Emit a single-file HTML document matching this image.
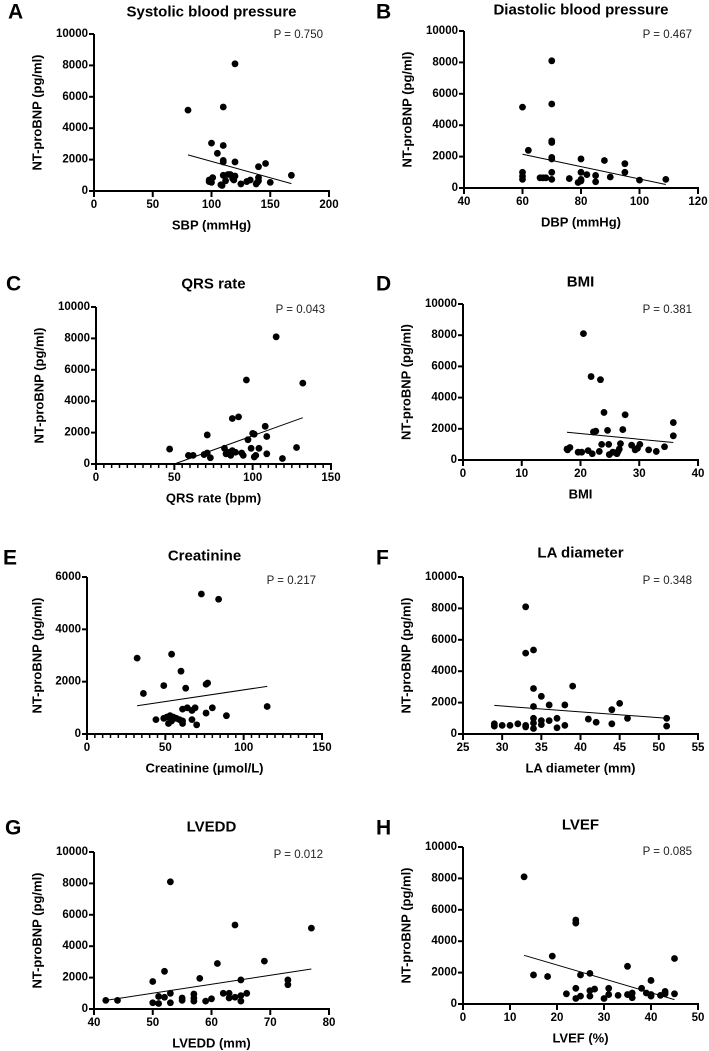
<!DOCTYPE html>
<html><head><meta charset="utf-8"><style>
html,body{margin:0;padding:0;background:#fff}
svg{display:block;font-family:"Liberation Sans",Arial,sans-serif}
</style></head><body>
<svg id="fig" width="709" height="1051" viewBox="0 0 709 1051"></svg>
<script>
// ---- data arrays ----
const titles = ["Systolic blood pressure","Diastolic blood pressure","QRS rate","BMI","Creatinine","LA diameter","LVEDD","LVEF"];
const xTitles = ["SBP (mmHg)","DBP (mmHg)","QRS rate (bpm)","BMI","Creatinine (µmol/L)","LA diameter (mm)","LVEDD (mm)","LVEF (%)"];
const pValues = ["P = 0.750","P = 0.467","P = 0.043","P = 0.381","P = 0.217","P = 0.348","P = 0.012","P = 0.085"];
const letters = ["A","B","C","D","E","F","G","H"];
const xTicksA = [0,50,100,150,200];
const xTicksB = [40,60,80,100,120];
const xTicksC = [0,50,100,150];
const xTicksD = [0,10,20,30,40];
const xTicksE = [0,50,100,150];
const xTicksF = [25,30,35,40,45,50,55];
const xTicksG = [40,50,60,70,80];
const xTicksH = [0,10,20,30,40,50];
const yTicks10k = [0,2000,4000,6000,8000,10000];
const yTicks6k = [0,2000,4000,6000];

const xsA = [80,110,120,100,110,105,110,110,120,140,146,168,98,100,101,108,110,112,114,116,118,120,125,130,133,138,139,140,140,150,98,109,119];
const ysA = [5150,5350,8100,3050,2900,2400,1950,1850,1850,1550,1750,1000,700,550,850,400,1000,650,1050,1050,800,950,450,600,700,450,550,850,650,550,600,350,700];
const fitA = [[80,2300],[168,470]];

const xsB = [60,70,70,62,70,70,70,70,80,88,95,60,60,60,66,67,68,70,70,76,79,80,80,80,82,85,85,90,95,100,109];
const ysB = [5150,5350,8100,2400,3000,2900,1950,1850,1850,1750,1550,1000,750,550,650,650,650,1000,550,600,350,1000,550,450,850,800,400,700,1000,500,550];
const fitB = [[60,2150],[109,220]];

const xsC = [115,96,132,87,91,71,108,100,101,97,109,47,59,62,69,71,73,82,83,85,86,87,89,93,94,99,101,102,104,109,119,128];
const ysC = [8100,5350,5150,2900,3000,1850,2400,1950,1900,1550,1750,950,550,550,600,700,400,1000,650,750,550,850,750,700,550,1000,450,550,1000,650,350,1050];
const fitC = [[50,0],[132,2950]];

const xsD = [20.5,21.8,23.4,24,27.6,22.2,22.6,24.6,27.2,35.8,35.8,17.7,17.8,18.2,19.6,20.2,21.3,22,23.2,23.6,24.8,24.9,25.5,26.2,26.4,26.6,26.8,28.7,29.3,29.7,30.1,31.6,32.9,34.3];
const ysD = [8100,5350,5150,3050,2900,1800,1850,1900,1950,2400,1550,700,650,800,500,500,600,400,550,1000,1000,350,500,400,550,700,1050,950,650,750,1000,650,550,850];
const fitD = [[17.7,1780],[35.8,1120]];

const xsE = [73,84,32,54,60,36,49,63,76,77,115,44,49,51,52,53,54,55,57,59,61,61,61,64,67,67,69,70,76,80,89];
const ysE = [5350,5150,2900,3050,2400,1550,1850,1750,1900,1950,1050,550,600,650,400,700,500,650,600,550,500,950,400,1000,900,550,1000,350,800,1000,700];
const fitE = [[32,1080],[115,1820]];

const xsF = [33,33,34,34,35,39,34,36,38,44,45,46,51,51,29,29,30,31,32,33,33,34,34,34,35,35,36,37,37,38,41,42,44];
const ysF = [8100,5150,5350,2900,2400,3050,1750,1850,1850,1550,1950,1000,1000,500,650,500,550,550,650,450,550,1000,700,350,850,600,850,1000,400,550,950,750,650];
const fitF = [[29,1820],[51,1000]];

const xsG = [53,64,77,61,69,52,50,58,65,73,73,42,44,50,51,51,52,53,53,55,55,57,57,57,59,60,62,63,63,64,65,65,66];
const ysG = [8100,5350,5150,2900,3050,2400,1750,1950,1850,1850,1550,550,550,400,800,350,750,1000,400,700,550,950,700,500,500,650,1000,1000,700,750,850,500,1000];
const fitG = [[42,550],[77,2550]];

const xsH = [13,24,24,19,15,18,25,27,35,45,40,22,24,24,25,27,27,28,30,31,31,33,35,36,36,38,39,40,40,42,43,43,45];
const ysH = [8100,5350,5150,3050,1850,1750,1850,1950,2400,2900,1500,650,1000,350,500,850,500,950,350,1000,600,550,600,700,400,1000,700,600,500,550,800,650,650];
const fitH = [[13,3100],[45,280]];

// ---- layout (geometry only) ----
const panels = [
 {xs:xsA,ys:ysA,fit:fitA,xt:xTicksA,yt:yTicks10k,ax:94,x1:329,y0:191,yTop:34,xmin:0,xmax:200,ymax:10000,minor:0,tY:12,lX:8,lY:12,ytX:37,pY:35},
 {xs:xsB,ys:ysB,fit:fitB,xt:xTicksB,yt:yTicks10k,ax:464,x1:698,y0:188,yTop:31,xmin:40,xmax:120,ymax:10000,minor:0,tY:10,lX:376,lY:12,ytX:407,pY:35},
 {xs:xsC,ys:ysC,fit:fitC,xt:xTicksC,yt:yTicks10k,ax:96,x1:331,y0:464,yTop:307,xmin:0,xmax:150,ymax:10000,minor:5,tY:284,lX:6,lY:284,ytX:39,pY:310},
 {xs:xsD,ys:ysD,fit:fitD,xt:xTicksD,yt:yTicks10k,ax:463,x1:698,y0:460,yTop:304,xmin:0,xmax:40,ymax:10000,minor:0,tY:282,lX:376,lY:284,ytX:406,pY:310},
 {xs:xsE,ys:ysE,fit:fitE,xt:xTicksE,yt:yTicks6k,ax:87,x1:322,y0:734,yTop:577,xmin:0,xmax:150,ymax:6000,minor:5,tY:556,lX:3,lY:558,ytX:37,pY:581},
 {xs:xsF,ys:ysF,fit:fitF,xt:xTicksF,yt:yTicks10k,ax:463,x1:698,y0:734,yTop:577,xmin:25,xmax:55,ymax:10000,minor:0,tY:553,lX:376,lY:558,ytX:406,pY:581},
 {xs:xsG,ys:ysG,fit:fitG,xt:xTicksG,yt:yTicks10k,ax:94,x1:329,y0:1009,yTop:852,xmin:40,xmax:80,ymax:10000,minor:0,tY:827,lX:5,lY:828,ytX:37,pY:855},
 {xs:xsH,ys:ysH,fit:fitH,xt:xTicksH,yt:yTicks10k,ax:463,x1:698,y0:1004,yTop:847,xmin:0,xmax:50,ymax:10000,minor:0,tY:825,lX:376,lY:828,ytX:406,pY:852}
];

const NS = "http://www.w3.org/2000/svg";
const svg = document.getElementById("fig");
function mk(tag, attrs, parent, text){
  const e = document.createElementNS(NS, tag);
  for (const k in attrs) e.setAttribute(k, attrs[k]);
  if (text !== undefined) e.textContent = text;
  parent.appendChild(e);
  return e;
}

panels.forEach((p, i) => {
  const g = mk("g", {}, svg);
  
  
  const sx = v => p.ax + (v - p.xmin) / (p.xmax - p.xmin) * (p.x1 - p.ax);
  const sy = v => p.y0 - v / p.ymax * (p.y0 - p.yTop);
  const cx = (p.ax + p.x1) / 2;

  const L = mk("text", {x:p.lX, y:p.lY, "font-size":21, "font-weight":"bold", "dominant-baseline":"central"}, g, letters[i]);
  
  
  const T = mk("text", {x:cx, y:p.tY, "font-size":15, "font-weight":"bold", "text-anchor":"middle", "dominant-baseline":"central"}, g, titles[i]);
  
  
  const P = mk("text", {x:p.x1 - 6, y:p.pY, "font-size":11.5, "text-anchor":"end", "dominant-baseline":"central", fill:"#222"}, g, pValues[i]);
  
  

  // axes
  const ya = mk("line", {x1:p.ax, y1:p.yTop, x2:p.ax, y2:p.y0+1, stroke:"#000", "stroke-width":2}, g);
  
  
  const xa = mk("line", {x1:p.ax-1, y1:p.y0, x2:p.x1+1, y2:p.y0, stroke:"#000", "stroke-width":2}, g);
  
  

  p.yt.forEach(v => {
    mk("line", {x1:p.ax-5, y1:sy(v), x2:p.ax, y2:sy(v), stroke:"#000", "stroke-width":2}, g);
    const t = mk("text", {x:p.ax-6, y:sy(v), "font-size":11.5, "font-weight":"bold", "text-anchor":"end", "dominant-baseline":"central"}, g, String(v));
    
    
  });
  if (p.minor) {
    for (let v = p.xmin; v <= p.xmax; v += p.minor) {
      mk("line", {x1:sx(v), y1:p.y0, x2:sx(v), y2:p.y0+4, stroke:"#000", "stroke-width":1.5}, g);
    }
  }
  p.xt.forEach(v => {
    mk("line", {x1:sx(v), y1:p.y0, x2:sx(v), y2:p.y0+6, stroke:"#000", "stroke-width":2}, g);
    const t = mk("text", {x:sx(v), y:p.y0+14, "font-size":11.5, "font-weight":"bold", "text-anchor":"middle", "dominant-baseline":"central"}, g, String(v));
    
    
  });
  const XT = mk("text", {x:cx, y:p.y0+34, "font-size":13, "font-weight":"bold", "text-anchor":"middle", "dominant-baseline":"central"}, g, xTitles[i]);
  
  
  const ym = (p.y0 + p.yTop) / 2;
  const YT = mk("text", {x:p.ytX, y:ym, "font-size":13, "font-weight":"bold", "text-anchor":"middle", "dominant-baseline":"central", transform:"rotate(-90 "+p.ytX+" "+ym+")"}, g, "NT-proBNP (pg/ml)");
  
  

  // regression line
  const fl = mk("line", {x1:sx(p.fit[0][0]), y1:sy(p.fit[0][1]), x2:sx(p.fit[1][0]), y2:sy(p.fit[1][1]), stroke:"#000", "stroke-width":1}, g);
  
  

  // points
  p.xs.forEach((x, j) => {
    const c = mk("circle", {cx:sx(x), cy:sy(p.ys[j]), r:3.4, fill:"#000"}, g);
    
    
  });
});
</script>
</body></html>
